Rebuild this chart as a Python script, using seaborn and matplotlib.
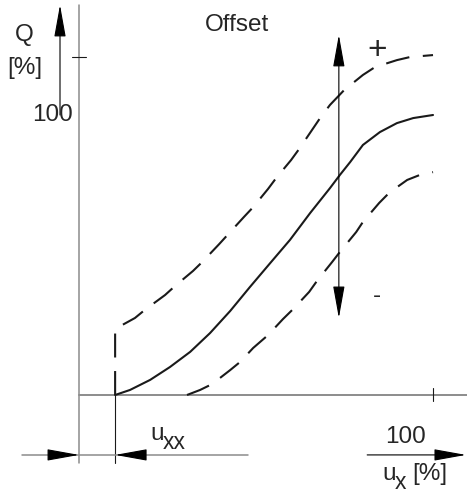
import matplotlib
matplotlib.use("Agg")
import matplotlib.pyplot as plt
import seaborn as sns
import pandas as pd

# Kennlinie Q ueber u_x (in %)
ux_nenn = [10.2, 14.4, 20.1, 25.7, 31.4, 37.0, 42.7, 48.3, 54.0, 59.6, 65.3, 70.9, 73.7,
           76.6, 80.2, 85.0, 89.8, 94.4, 100]
q_nenn = [0, 1.8, 5.4, 10.0, 15.4, 22.1, 30.0, 38.6, 47.1, 55.4, 65.0, 73.9, 78.6,
          83.2, 89.3, 93.9, 97.1, 98.9, 100]

# Offset +
ux_plus = [10.2, 10.2, 15.8, 18.6, 24.3, 27.1, 32.2, 34.8, 39.6, 42.7, 46.6, 49.2, 53.4, 55.7,
           59.9, 62.2, 68.1, 70.9, 74.9, 80.2, 83.6, 89.8, 93.5, 100]
q_plus = [0, 23.6, 27.5, 30.4, 35.7, 38.9, 44.3, 47.5, 53.9, 58.2, 63.6, 67.1, 73.6, 77.5,
          83.9, 87.9, 98.9, 103.6, 108.9, 114.3, 117.1, 119.6, 120.7, 121.4]

# Offset -
ux_minus = [30.5, 34.2, 37.6, 42.7, 45.5, 49.2, 53.4, 57.6, 60.5, 65.0, 67.2, 71.5, 73.7,
            78.3, 80.2, 84.8, 87.3, 88.7, 92.7, 96.3, 100]
q_minus = [0, 1.8, 3.9, 8.9, 11.8, 16.8, 21.4, 27.1, 30.7, 36.8, 40.7, 47.5, 51.1,
           58.2, 61.8, 68.6, 71.8, 73.2, 76.8, 78.6, 79.6]

u_xx = 10.2

sns.set_style("white")
plt.rcParams['font.family'] = ['Liberation Sans', 'DejaVu Sans']

fig = plt.figure(figsize=(4.67, 4.93), dpi=100)
ax = fig.add_axes([0, 0, 1, 1])
ax.set_xlim(-22.32, 109.6)
ax.set_ylim(-35, 141.07)
ax.axis('off')

grau = '#8c8c8c'
schwarz = '#1a1a1a'

# Achsen
ax.plot([0, 0], [-24.3, 139.3], color=grau, lw=1.1)
ax.plot([0, 109.6], [0, 0], color=grau, lw=1.4)
ax.plot([-2, 2], [120.7, 120.7], color=schwarz, lw=0.8)
ax.plot([100, 100], [2.5, -2.1], color=schwarz, lw=0.8)
ax.plot([u_xx, u_xx], [0, -24.3], color=schwarz, lw=0.8)

# Kurven
df_n = pd.DataFrame({'ux': ux_nenn, 'q': q_nenn})
df_p = pd.DataFrame({'ux': ux_plus, 'q': q_plus})
df_m = pd.DataFrame({'ux': ux_minus, 'q': q_minus})
sns.lineplot(data=df_n, x='ux', y='q', ax=ax, color=schwarz, lw=1.5, sort=False, estimator=None)
sns.lineplot(data=df_p, x='ux', y='q', ax=ax, color=schwarz, lw=1.5, sort=False, estimator=None,
             linestyle=(0, (11.5, 6.5)))
sns.lineplot(data=df_m, x='ux', y='q', ax=ax, color=schwarz, lw=1.5, sort=False, estimator=None,
             linestyle=(0, (11.5, 6.5)))

pfeil = dict(arrowstyle='-|>,head_length=20,head_width=3.6', mutation_scale=1,
             color='black', lw=0.8, shrinkA=0, shrinkB=0)

# Q-Pfeil
ax.annotate('', xy=(-5.37, 139.3), xytext=(-5.37, 100), arrowprops=pfeil)
# Offset-Doppelpfeil
ax.annotate('', xy=(73.4, 128.6), xytext=(73.4, 78), arrowprops=pfeil)
ax.annotate('', xy=(73.4, 27.5), xytext=(73.4, 78), arrowprops=pfeil)

# Bemassung u_xx
ax.plot([-16.1, 47.7], [-21.4, -21.4], color=grau, lw=1.1)
ax.annotate('', xy=(0, -21.4), xytext=(-8.3, -21.4), arrowprops=pfeil)
ax.annotate('', xy=(u_xx, -21.4), xytext=(18.2, -21.4), arrowprops=pfeil)
ax.annotate('', xy=(109.3, -21.4), xytext=(81.4, -21.4), arrowprops=pfeil)

fs = 17.5
ax.text(-15.5, 128.6, 'Q', fontsize=fs, ha='center', va='center')
ax.text(-15.2, 116.8, '[%]', fontsize=fs, ha='center', va='center')
ax.text(-7.6, 100, '100', fontsize=fs, ha='center', va='center')
ax.text(44.6, 132.1, 'Offset', fontsize=fs, ha='center', va='center')
ax.text(84.2, 123.2, '+', fontsize=24, ha='center', va='center')
ax.text(84.2, 35.4, '-', fontsize=fs, ha='center', va='center')

ax.text(22.0, -13.9, 'u', fontsize=fs, ha='center', va='center')
ax.text(26.8, -17.1, 'xx', fontsize=fs - 1, ha='center', va='center')
ax.text(92.1, -15.0, '100', fontsize=fs, ha='center', va='center')
ax.text(87.6, -28.2, 'u', fontsize=fs, ha='center', va='center')
ax.text(90.7, -31.1, 'x', fontsize=fs - 1, ha='center', va='center')
ax.text(99.2, -28.2, '[%]', fontsize=fs, ha='center', va='center')

fig.savefig('out.png', dpi=100)
